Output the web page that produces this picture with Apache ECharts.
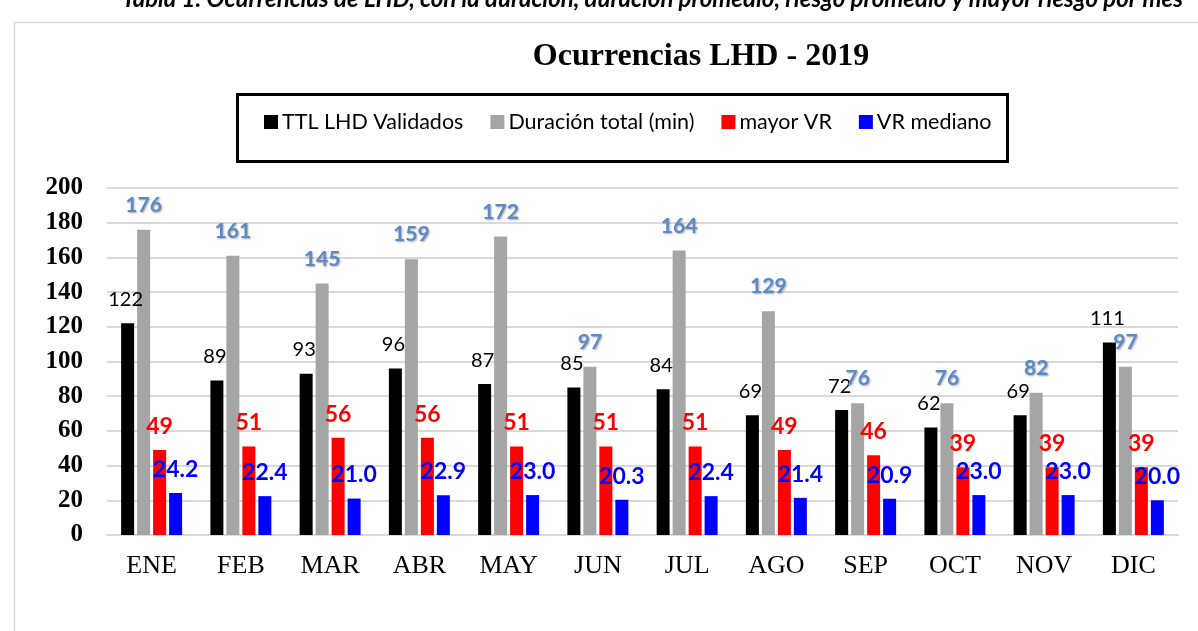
<!DOCTYPE html>
<html>
<head>
<meta charset="utf-8">
<script src="https://cdn.jsdelivr.net/npm/echarts@6/dist/echarts.min.js"></script>
<style>html,body{margin:0;padding:0;background:#fff;}#c{width:1198px;height:631px;}</style>
</head>
<body>
<div id="c"></div>
<script>
const months = ['ENE','FEB','MAR','ABR','MAY','JUN','JUL','AGO','SEP','OCT','NOV','DIC'];
const ttlLHD = [122, 89, 93, 96, 87, 85, 84, 69, 72, 62, 69, 111];
const duracion = [176, 161, 145, 159, 172, 97, 164, 129, 76, 76, 82, 97];
const mayorVR = [49, 51, 56, 56, 51, 51, 51, 49, 46, 39, 39, 39];
const vrMediano = [24.2, 22.4, 21.0, 22.9, 23.0, 20.3, 22.4, 21.4, 20.9, 23.0, 23.0, 20.0];
const yTicks = [0, 20, 40, 60, 80, 100, 120, 140, 160, 180, 200];

const chart = echarts.init(document.getElementById('c'));
const calibri = 'Lato, "Open Sans", sans-serif';
const times = '"Liberation Serif", "DejaVu Serif", serif';

function bar(name, data, color, label) {
  return {
    name: name, type: 'bar', data: data, barWidth: 13, barGap: '23%',
    itemStyle: { color: color },
    label: Object.assign({ show: true, position: 'top', distance: 14, fontFamily: calibri, fontSize: 20 }, label)
  };
}

chart.setOption({
  animation: false,
  backgroundColor: '#fff',
  grid: { left: 107, right: 20, top: 188, bottom: 96 },
  legend: {
    left: 259, top: 106, itemWidth: 14, itemHeight: 14, itemGap: 27,
    icon: 'rect',
    textStyle: { fontFamily: calibri, fontSize: 21.5, color: '#000', padding: [0, 0, 0, -1] },
    data: ['TTL LHD Validados', 'Duración total (min)', 'mayor VR', 'VR mediano']
  },
  xAxis: {
    type: 'category', data: months,
    axisLine: { lineStyle: { color: '#d9d9d9', width: 2 } },
    axisTick: { show: false },
    axisLabel: { fontFamily: times, fontSize: 26, color: '#000', margin: 18 }
  },
  yAxis: {
    type: 'value', min: yTicks[0], max: yTicks[yTicks.length - 1], interval: 20,
    axisLine: { show: false }, axisTick: { show: false },
    splitLine: { lineStyle: { color: '#d9d9d9', width: 2 } },
    axisLabel: { fontFamily: times, fontSize: 25, fontWeight: 'bold', color: '#000', margin: 24 }
  },
  graphic: [
    { type: 'rect', left: 12, top: 20, shape: { width: 1300, height: 800 }, style: { fill: 'none', stroke: '#d9d9d9', lineWidth: 1.5 }, z: -1 },
    { type: 'rect', left: 235, top: 92, shape: { width: 770, height: 67 }, style: { fill: 'none', stroke: '#000', lineWidth: 3 } },
    { type: 'text', x: 701, y: 57, style: { text: 'Ocurrencias LHD - 2019', font: 'bold 32px "Liberation Serif", serif', fill: '#000', textAlign: 'center', textVerticalAlign: 'middle' } },
    { type: 'text', x: 1183, y: -1, style: { text: 'Tabla 1. Ocurrencias de LHD, con la duración, duración promedio, riesgo promedio y mayor riesgo por mes', font: 'italic bold 24px Lato, sans-serif', fill: '#000', textAlign: 'right', textVerticalAlign: 'middle' } }
  ],
  series: [
    bar('TTL LHD Validados', ttlLHD, '#000000', { color: '#000', offset: [-2, 0] }),
    bar('Duración total (min)', duracion, '#a5a5a5', { color: '#5b8ac6', fontWeight: 'bold', fontSize: 21, textShadowColor: 'rgba(0,0,0,0.35)', textShadowBlur: 2, textShadowOffsetX: 1, textShadowOffsetY: 1 }),
    bar('mayor VR', mayorVR, '#ff0000', { color: '#ff0000', fontWeight: 'bold', fontSize: 23, distance: 12 }),
    bar('VR mediano', vrMediano, '#0000ff', { color: '#0000ff', fontWeight: 'bold', fontSize: 23, distance: 12, formatter: p => p.value.toFixed(1) })
  ]
});
</script>
</body>
</html>
